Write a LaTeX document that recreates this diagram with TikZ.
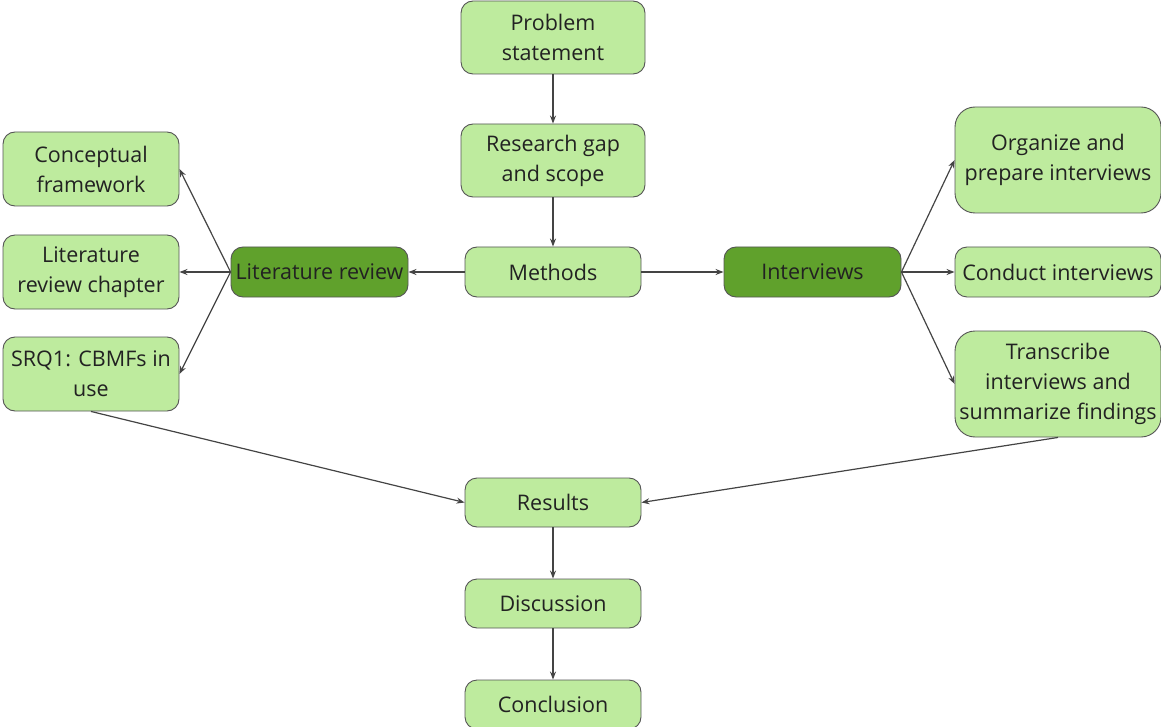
\documentclass[tikz,border=0pt]{standalone}
\usepackage{fontspec}
\setmainfont{Open Sans}
\usetikzlibrary{arrows.meta}
\definecolor{lightg}{RGB}{190,235,158}
\definecolor{darkg}{RGB}{96,161,44}
\definecolor{bord}{RGB}{85,85,85}
\definecolor{txt}{RGB}{34,34,34}
\definecolor{lin}{RGB}{68,68,68}
\tikzset{
  box/.style={draw=bord, line width=0.9pt, fill=lightg, rounded corners=12pt, align=center,
    text=txt, font=\fontsize{21.5}{30}\selectfont, inner sep=0pt},
  darkbox/.style={box, fill=darkg},
  conn/.style={draw=lin, line width=1.2pt, -{Stealth[length=8pt,width=6pt]}}
}
\begin{document}
\begin{tikzpicture}[x=1pt,y=-1pt]
\useasboundingbox (0,0) rectangle (1161,727);
\node[box, minimum width=184pt, minimum height=73pt] (prob) at (553,37.5) {Problem\\statement};
\node[box, minimum width=184pt, minimum height=73pt] (gap) at (553,160.5) {Research gap\\and scope};
\node[box, minimum width=176pt, minimum height=50pt] (meth) at (553,272) {Methods};
\node[darkbox, minimum width=177pt, minimum height=50pt] (lit) at (319.5,272) {Literature review};
\node[darkbox, minimum width=177pt, minimum height=50pt] (int) at (812.5,272) {Interviews};
\node[box, minimum width=176pt, minimum height=74pt] (conc) at (91,169) {Conceptual\\framework};
\node[box, minimum width=176pt, minimum height=74pt] (chap) at (91,272) {Literature\\review chapter};
\node[box, minimum width=176pt, minimum height=74pt] (srq) at (91,374) {SRQ1: CBMFs in\\use};
\node[box, rounded corners=20pt, minimum width=206pt, minimum height=106pt] (org) at (1058,160) {Organize and\\prepare interviews};
\node[box, minimum width=206pt, minimum height=50pt] (cond) at (1058,272) {Conduct interviews};
\node[box, rounded corners=20pt, minimum width=206pt, minimum height=106pt] (trans) at (1058,384) {Transcribe\\interviews and\\summarize findings};
\node[box, minimum width=176pt, minimum height=49pt] (res) at (553,502.5) {Results};
\node[box, minimum width=176pt, minimum height=49pt] (disc) at (553,603.5) {Discussion};
\node[box, minimum width=176pt, minimum height=49pt] (concl) at (553,704.5) {Conclusion};

\draw[conn] (prob) -- (gap);
\draw[conn] (gap) -- (meth);
\draw[conn] (meth) -- (lit);
\draw[conn] (meth) -- (int);
\draw[conn] (lit.west) -- (conc.east);
\draw[conn] (lit.west) -- (chap.east);
\draw[conn] (lit.west) -- (srq.east);
\draw[conn] (int.east) -- (org.west);
\draw[conn] (int.east) -- (cond.west);
\draw[conn] (int.east) -- (trans.west);
\draw[conn] (srq.south) -- (res.west);
\draw[conn] (trans.south) -- (res.east);
\draw[conn] (res) -- (disc);
\draw[conn] (disc) -- (concl);
\end{tikzpicture}
\end{document}
